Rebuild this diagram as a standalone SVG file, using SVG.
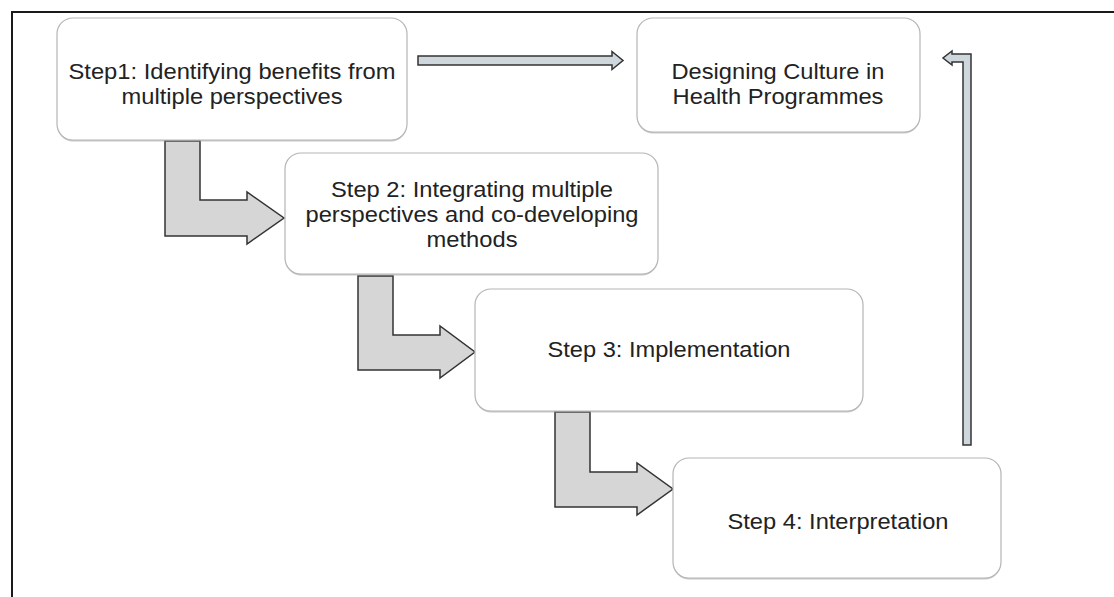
<svg xmlns="http://www.w3.org/2000/svg" width="1114" height="597" viewBox="0 0 1114 597">
<style>
.box{fill:#fff;stroke:#b5b5b5;stroke-width:1.2}
.shadow{fill:#9a9a9a;opacity:0.55}
.t{font-family:"Liberation Sans",Arial,sans-serif;font-size:22px;fill:#222;text-anchor:middle}
.big{fill:#d6d6d6;stroke:#333;stroke-width:1.5;stroke-linejoin:miter}
.thin{fill:#cdd7dc;stroke:#333;stroke-width:1.5}
.frame{stroke:#1a1a1a;stroke-width:2;fill:none}
</style>
<rect width="1114" height="597" fill="#fff"/>
<g id="frame">
<path class="frame" d="M12,597 L12,12 L1114,12"/>
</g>
<g id="connectors">
<path class="big" d="M165,141 L200,141 L200,200 L247,200 L247,192 L284,218 L247,244 L247,236 L165,236 Z"/>
<path class="big" d="M358,276 L393,276 L393,335 L440,335 L440,326 L475,352 L440,378 L440,370 L358,370 Z"/>
<path class="big" d="M555,412 L590,412 L590,472 L637,472 L637,463 L673,489 L637,515 L637,507 L555,507 Z"/>
<path class="thin" d="M418,56 L612,56 L612,51.5 L623,60.5 L612,69.5 L612,65 L418,65 Z"/>
<path class="thin" d="M971,445 L963,445 L963,62 L952,62 L952,65 L943,58 L952,51 L952,54 L971,54 Z"/>
</g>
<g id="step1">
<rect class="shadow" x="57" y="19.5" width="350" height="122" rx="16"/>
<rect class="box" x="57" y="18" width="350" height="122" rx="16"/>
<text class="t" x="232" y="79" textLength="327" lengthAdjust="spacingAndGlyphs">Step1: Identifying benefits from</text>
<text class="t" x="232" y="104" textLength="221" lengthAdjust="spacingAndGlyphs">multiple perspectives</text>
</g>
<g id="designing">
<rect class="shadow" x="637" y="19.5" width="283" height="114" rx="16"/>
<rect class="box" x="637" y="18" width="283" height="114" rx="16"/>
<text class="t" x="778" y="79" textLength="213" lengthAdjust="spacingAndGlyphs">Designing Culture in</text>
<text class="t" x="778" y="104" textLength="211" lengthAdjust="spacingAndGlyphs">Health Programmes</text>
</g>
<g id="step2">
<rect class="shadow" x="285" y="154.5" width="373" height="121" rx="16"/>
<rect class="box" x="285" y="153" width="373" height="121" rx="16"/>
<text class="t" x="472" y="197" textLength="282" lengthAdjust="spacingAndGlyphs">Step 2: Integrating multiple</text>
<text class="t" x="472" y="222" textLength="333" lengthAdjust="spacingAndGlyphs">perspectives and co-developing</text>
<text class="t" x="472" y="247" textLength="91" lengthAdjust="spacingAndGlyphs">methods</text>
</g>
<g id="step3">
<rect class="shadow" x="475" y="290.5" width="388" height="122" rx="16"/>
<rect class="box" x="475" y="289" width="388" height="122" rx="16"/>
<text class="t" x="669" y="357" textLength="243" lengthAdjust="spacingAndGlyphs">Step 3: Implementation</text>
</g>
<g id="step4">
<rect class="shadow" x="673" y="459.5" width="328" height="120" rx="16"/>
<rect class="box" x="673" y="458" width="328" height="120" rx="16"/>
<text class="t" x="838" y="529" textLength="221" lengthAdjust="spacingAndGlyphs">Step 4: Interpretation</text>
</g>
</svg>
